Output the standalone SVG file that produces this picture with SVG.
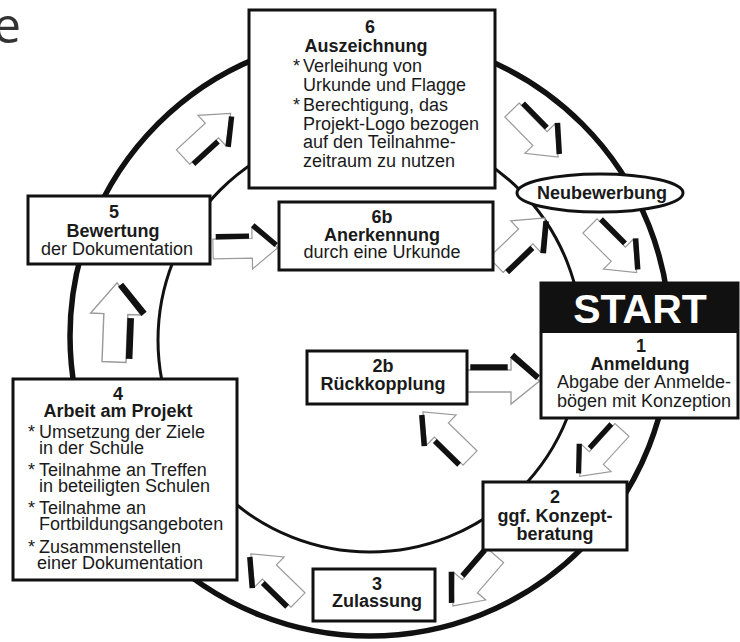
<svg xmlns="http://www.w3.org/2000/svg" xmlns:xlink="http://www.w3.org/1999/xlink" width="740" height="642" viewBox="0 0 740 642">
<style>
.box{fill:#fff;stroke:#111;stroke-width:3}
.t{font-family:"Liberation Sans",Arial,Helvetica,sans-serif;font-size:18px;fill:#1a1a1a}
.b{font-weight:bold}
.c{text-anchor:middle}
.ring{fill:none;stroke:#111}
</style>
<defs>
<g id="ar">
<polygon points="0,-10 40,-10 40,-21 66,0 40,21 40,10 0,10" fill="#fff" stroke="#9a9a9a" stroke-width="1.2"/>
<path d="M3,-12.5 L37,-12.5 M41,-23.5 L64.5,-3" stroke="#111" stroke-width="5.5" fill="none"/>
</g>
</defs>
<rect width="740" height="642" fill="#fff"/>
<text x="21" y="43" text-anchor="end" font-family="'Open Sans','Noto Sans',sans-serif" font-size="50" fill="#333">e</text>
<g id="rings">
<circle class="ring" cx="370" cy="336" r="300" stroke-width="5.5"/>
<circle class="ring" cx="370" cy="340" r="212" stroke-width="3"/>
</g>
<g id="connectors">
<use xlink:href="#ar" transform="translate(183,157) rotate(-42.5) scale(0.98,-0.98)"/>
<use xlink:href="#ar" transform="translate(512,110) rotate(45.6)"/>
<use xlink:href="#ar" transform="translate(590,226) rotate(45)"/>
<use xlink:href="#ar" transform="translate(496,265) rotate(-43.8) scale(1.03,-1.03)"/>
<use xlink:href="#ar" transform="translate(213,249) rotate(-1) scale(0.98)"/>
<use xlink:href="#ar" transform="translate(114,362) rotate(-87.8) scale(1.2,-1.2)"/>
<use xlink:href="#ar" transform="translate(467,381) scale(1.1)"/>
<use xlink:href="#ar" transform="translate(470,458) rotate(-135.6)"/>
<use xlink:href="#ar" transform="translate(622,430) rotate(132.4) scale(0.95,-0.95)"/>
<use xlink:href="#ar" transform="translate(496,556) rotate(130.8) scale(1,-1)"/>
<use xlink:href="#ar" transform="translate(298,600) rotate(-135.6)"/>
</g>
<g id="n6">
<rect class="box" x="249" y="10" width="246" height="178"/>
<text class="t b c" x="370" y="33">6</text>
<text class="t b c" x="366" y="52">Auszeichnung</text>
<text class="t" x="293" y="72">*</text>
<text class="t" x="303" y="72">Verleihung von</text>
<text class="t" x="303" y="90.5">Urkunde und Flagge</text>
<text class="t" x="293" y="111">*</text>
<text class="t" x="303" y="111">Berechtigung, das</text>
<text class="t" x="303" y="129.5">Projekt-Logo bezogen</text>
<text class="t" x="303" y="148">auf den Teilnahme-</text>
<text class="t" x="303" y="166.5">zeitraum zu nutzen</text>
</g>
<g id="n5">
<rect class="box" x="28" y="196" width="182" height="68"/>
<text class="t b c" x="114" y="218">5</text>
<text class="t b c" x="113" y="237">Bewertung</text>
<text class="t c" x="117" y="255">der Dokumentation</text>
</g>
<g id="n6b">
<rect class="box" x="279" y="202" width="214" height="68"/>
<text class="t b c" x="382" y="223">6b</text>
<text class="t b c" x="382" y="241">Anerkennung</text>
<text class="t c" x="382" y="258">durch eine Urkunde</text>
</g>
<g id="neu">
<ellipse cx="600" cy="193" rx="83" ry="19" fill="#fff" stroke="#111" stroke-width="3"/>
<text class="t b c" x="602" y="199">Neubewerbung</text>
</g>
<g id="n1">
<rect class="box" x="541" y="283" width="197" height="135"/>
<rect x="541" y="283" width="197" height="50" fill="#111"/>
<text class="t b c" x="640" y="323" style="font-size:41px;fill:#fff">START</text>
<text class="t b c" x="641" y="352">1</text>
<text class="t b c" x="640" y="370">Anmeldung</text>
<text class="t c" x="644" y="388">Abgabe der Anmelde-</text>
<text class="t c" x="644" y="407">bögen mit Konzeption</text>
</g>
<g id="n2b">
<rect class="box" x="307" y="351" width="160" height="53"/>
<text class="t b c" x="383" y="372">2b</text>
<text class="t b c" x="383" y="390">Rückkopplung</text>
</g>
<g id="n4">
<rect class="box" x="13" y="379" width="224" height="201"/>
<text class="t b c" x="118" y="400">4</text>
<text class="t b c" x="118" y="417">Arbeit am Projekt</text>
<text class="t" x="28" y="438">*</text>
<text class="t" x="39" y="438">Umsetzung der Ziele</text>
<text class="t" x="39" y="454">in der Schule</text>
<text class="t" x="28" y="476">*</text>
<text class="t" x="39" y="476">Teilnahme an Treffen</text>
<text class="t" x="39" y="492">in beteiligten Schulen</text>
<text class="t" x="28" y="514">*</text>
<text class="t" x="39" y="514">Teilnahme an</text>
<text class="t" x="39" y="530">Fortbildungsangeboten</text>
<text class="t" x="28" y="553">*</text>
<text class="t" x="39" y="553">Zusammenstellen</text>
<text class="t" x="37" y="569">einer Dokumentation</text>
</g>
<g id="n3">
<rect class="box" x="313" y="569" width="122" height="52"/>
<text class="t b c" x="377" y="590">3</text>
<text class="t b c" x="377" y="607">Zulassung</text>
</g>
<g id="n2">
<rect class="box" x="483" y="482" width="144" height="68"/>
<text class="t b c" x="555" y="503">2</text>
<text class="t b c" x="555" y="522">ggf. Konzept-</text>
<text class="t b c" x="555" y="540">beratung</text>
</g>
</svg>
